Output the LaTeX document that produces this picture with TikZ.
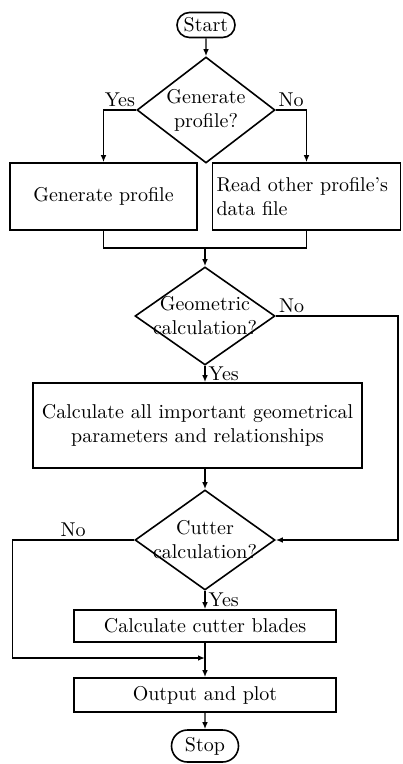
\documentclass[tikz,border=0pt]{standalone}
\usetikzlibrary{arrows.meta,positioning,shapes.geometric,shapes.misc}
\tikzset{
  >={Latex[length=3.5pt,width=2.8pt]},
  term/.style={rounded rectangle, draw, line width=0.8pt, inner sep=1pt},
  decision/.style={diamond, draw, line width=0.8pt, align=center, inner sep=-8pt},
  process/.style={rectangle, draw, line width=0.8pt, align=center, inner sep=2pt},
  link/.style={draw, line width=0.7pt},
  flow/.style={->, draw, line width=0.7pt},
  lbl/.style={inner sep=1.5pt},
}
\begin{document}
\begin{tikzpicture}[x=0.5pt,y=-0.5pt]
  \useasboundingbox (0,0) rectangle (402,764);
  % nodes
  \node[term,minimum width=31pt,minimum height=12.5pt] (start) at (206,25) {Start};
  \node[decision,minimum width=69pt,minimum height=53pt] (d1) at (206,110) {Generate\\profile?};
  \node[process,minimum width=93.5pt,minimum height=33.5pt] (b1) at (103.5,196.5) {Generate profile};
  \node[process,minimum height=33.5pt,text width=90pt,align=left] (b2) at (306.5,196.5) {Read other profile's\\data file};
  \node[decision,minimum width=70pt,minimum height=49pt] (d2) at (205,316) {Geometric\\calculation?};
  \node[process,minimum width=164.5pt,minimum height=42.5pt] (b3) at (197.5,425.5) {Calculate all important geometrical\\parameters and relationships};
  \node[decision,minimum width=70pt,minimum height=50pt] (d3) at (205,540) {Cutter\\calculation?};
  \node[process,minimum width=131pt,minimum height=16pt] (b4) at (205,626) {Calculate cutter blades};
  \node[process,minimum width=131pt,minimum height=17pt] (b5) at (205,695) {Output and plot};
  \node[term,minimum width=35.5pt,minimum height=16pt] (stop) at (205,746) {Stop};
  \coordinate (merge) at (205,248);
  \coordinate (join) at (205,658);

  % connectors
  \draw[flow] (start) -- (d1);
  \draw[flow] (d1.west) -| node[lbl,above,pos=0.25]{Yes} (b1.north);
  \draw[flow] (d1.east) -| node[lbl,above,pos=0.25]{No} (b2.north);
  \draw[link] (b1.south) |- (merge) -| (b2.south);
  \draw[flow] (merge) -- (d2.north);
  \draw[flow] (d2.south) -- node[lbl,right]{Yes} (d2.south |- b3.north);
  \draw[flow] (d2.east) -- node[lbl,above,pos=0.13]{No} ++(122,0) |- (d3.east);
  \draw[flow] (d3.north |- b3.south) -- (d3.north);
  \draw[flow] (d3.south) -- node[lbl,right]{Yes} (b4.north);
  \draw[flow] (d3.west) -- node[lbl,above]{No} ++(-122,0) |- (join);
  \draw[flow] (b4) -- (b5);
  \draw[flow] (b5) -- (stop);
\end{tikzpicture}
\end{document}
